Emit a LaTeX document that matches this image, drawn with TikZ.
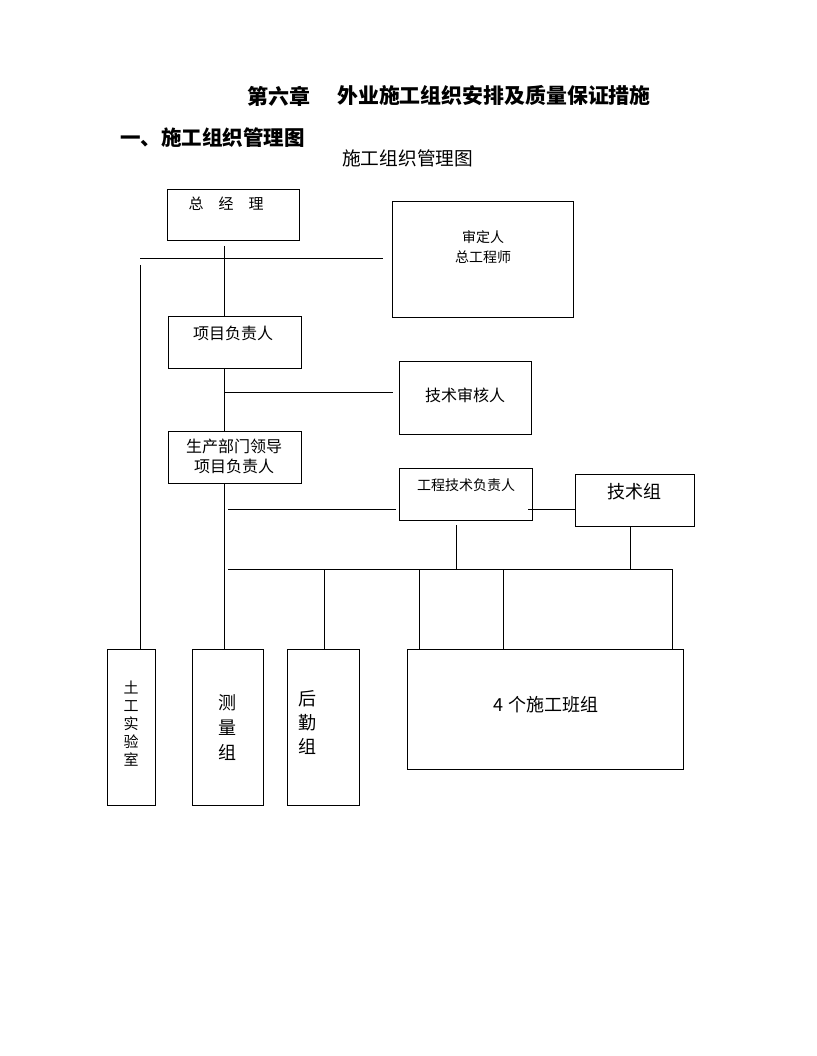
\documentclass[tikz,border=0pt]{standalone}
\usepackage{fontspec}
\setmainfont{Noto Sans CJK SC}
\newcommand{\fs}[2]{\fontsize{#1}{#2}\selectfont}
\begin{document}
\begin{tikzpicture}[x=1pt,y=-1pt,
  box/.style={draw,line width=1pt,inner sep=0pt,rectangle},
  lbl/.style={inner sep=0pt,align=center},
  ln/.style={line width=1pt}]
\useasboundingbox[fill=white] (0,0) rectangle (816,1056);
\newcommand{\bx}[5]{\node[box,minimum width={#4-#2},minimum height={#5-#3}] (#1) at ({(#2+#4)/2},{(#3+#5)/2}) {};}
% headings
\node[lbl,anchor=west,font={\fs{21}{24}\bfseries}] (title1) at (247,96) {第六章};
\node[lbl,anchor=west,font={\fs{20.9}{24}\bfseries}] (title2) at (337,96) {外业施工组织安排及质量保证措施};
\node[lbl,anchor=west,font={\fs{20.5}{24}\bfseries}] (sec) at (120,138) {一、施工组织管理图};
\node[lbl,anchor=west,font={\fs{18.7}{22}}] (cap) at (342,158) {施工组织管理图};
% boxes
\bx{zjl}{167}{190}{299}{241}
\bx{sd}{392}{202}{573}{317}
\bx{xm}{168}{316}{301}{368}
\bx{jssh}{399}{361}{531}{434}
\bx{sc}{168}{431}{301}{483}
\bx{gc}{399}{468}{532}{520}
\bx{jsz}{575}{474}{694}{526}
\bx{tg}{107}{649}{155}{805}
\bx{cl}{192}{649}{263}{805}
\bx{hq}{287}{649}{359}{805}
\bx{bz}{407}{649}{683}{769}
% texts
\node[lbl,font={\fs{15}{18}}] (tzjl) at (226,204) {总\quad 经\quad 理};
\node[lbl,font={\fs{14}{20}}] (tsd) at (483,247) {审定人\\总工程师};
\node[lbl,font={\fs{16}{20}}] (txm) at (233,333) {项目负责人};
\node[lbl,font={\fs{16}{20}}] (tjssh) at (465,395) {技术审核人};
\node[lbl,font={\fs{16}{20}}] (tsc) at (234,456) {生产部门领导\\项目负责人};
\node[lbl,font={\fs{14}{18}}] (tgc) at (466,485) {工程技术负责人};
\node[lbl,font={\fs{18}{22}}] (tjsz) at (634,492) {技术组};
\node[lbl,font={\fs{15}{18}}] (ttg) at (131,724) {土\\工\\实\\验\\室};
\node[lbl,font={\fs{18}{25}}] (tcl) at (227,728) {测\\量\\组};
\node[lbl,font={\fs{18}{24}}] (thq) at (307,723) {后\\勤\\组};
\node[lbl,font={\fs{18}{22}}] (tbz) at (546,705) {4 个施工班组};
% connector coordinates
\coordinate (a1) at (224,246);
\coordinate (h1l) at (140,259);
\coordinate (h1r) at (383,259);
\coordinate (v1) at (140,265);
\coordinate (h2r) at (393,392);
\coordinate (h3l) at (228,509);
\coordinate (h3r) at (396,509);
\coordinate (h3b) at (528,509);
\coordinate (h4l) at (228,569);
\coordinate (h4r) at (672,569);
\coordinate (g1) at (456,525);
\coordinate (g2) at (630,526);
\coordinate (d1) at (324,569);
\coordinate (d2) at (419,569);
\coordinate (d3) at (503,569);
% connectors
\draw[ln] (a1) -- (a1 |- xm.north);
\draw[ln] (h1l) -- (h1r);
\draw[ln] (v1) -- (v1 |- tg.north);
\draw[ln] (a1 |- xm.south) -- (a1 |- sc.north);
\draw[ln] (a1 |- h2r) -- (h2r);
\draw[ln] (a1 |- sc.south) -- (a1 |- cl.north);
\draw[ln] (h3l) -- (h3r);
\draw[ln] (h3b) -- (jsz.west |- h3b);
\draw[ln] (g1) -- (g1 |- h4l);
\draw[ln] (g2) -- (g2 |- h4l);
\draw[ln] (h4l) -- (h4r);
\draw[ln] (d1) -- (d1 |- hq.north);
\draw[ln] (d2) -- (d2 |- bz.north);
\draw[ln] (d3) -- (d3 |- bz.north);
\draw[ln] (h4r) -- (h4r |- bz.north);
\end{tikzpicture}
\end{document}
